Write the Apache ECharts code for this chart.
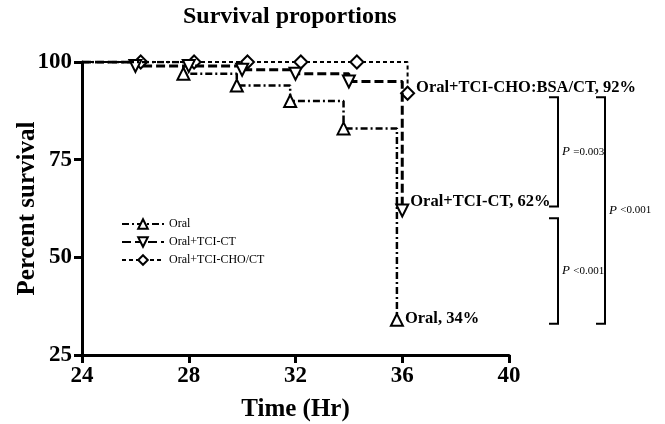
<!DOCTYPE html>
<html>
<head>
<meta charset="utf-8">
<script src="https://cdn.jsdelivr.net/npm/echarts@6/dist/echarts.min.js"></script>
<style>
  html, body { margin: 0; padding: 0; background: #fff; }
  #chart { width: 665px; height: 424px; }
</style>
</head>
<body>
<div id="chart"></div>
<script>
// survival data: [time (hr), percent]
const oralData = [[24, 100], [27.8, 97], [29.8, 94], [31.8, 90], [33.8, 83], [35.8, 34]];
const tciCtData = [[24, 100], [26, 99], [28, 99], [30, 98], [32, 97], [34, 95], [36, 62]];
const tciChoData = [[24, 100], [26.2, 100], [28.2, 100], [30.2, 100], [32.2, 100], [34.3, 100], [36.2, 92]];

const seriesNames = ["Oral", "Oral+TCI-CT", "Oral+TCI-CHO/CT"];
const endLabels = ["Oral, 34%", "Oral+TCI-CT, 62%", "Oral+TCI-CHO:BSA/CT, 92%"];

const xTicks = [24, 28, 32, 36, 40];
const yTicks = [25, 50, 75, 100];

// brackets: [from %, to %, label]
const brackets = [
  { top: 91, bottom: 63, text: "=0.003", col: 0 },
  { top: 60, bottom: 33, text: "<0.001", col: 0 },
  { top: 91, bottom: 33, text: "<0.001", col: 1 },
];

const serif = "Liberation Serif";
const chart = echarts.init(document.getElementById("chart"));

const toData = (arr, label, lift) =>
  arr.map((p, i) => {
    const item = { value: p };
    if (i === 0) item.symbol = "none";
    if (i === arr.length - 1) {
      item.label = {
        show: true,
        position: "right",
        distance: 1,
        offset: [0, -lift],
        formatter: label,
        fontFamily: serif,
        fontWeight: "bold",
        fontSize: 16.5,
        color: "#000",
      };
    }
    return item;
  });

const mkSeries = (name, data, label, lift, symbol, rotate, dash, width, z) => ({
  name: name,
  type: "line",
  step: "end",
  data: toData(data, label, lift),
  symbol: symbol,
  symbolSize: symbol === "diamond" ? 13 : 12,
  symbolRotate: rotate,
  showSymbol: true,
  z: z,
  lineStyle: { color: "#000", width: width, type: dash },
  itemStyle: { color: "#fff", borderColor: "#000", borderWidth: 2 },
  emphasis: { disabled: true },
  animation: false,
});

const option = {
  animation: false,
  title: {
    text: "Survival proportions",
    left: 178,
    top: 0,
    textStyle: { fontFamily: serif, fontWeight: "bold", fontSize: 24, color: "#000" },
  },
  legend: {
    orient: "vertical",
    left: 116,
    top: 213,
    itemWidth: 42,
    itemHeight: 12,
    itemGap: 6,
    data: seriesNames,
    textStyle: { fontFamily: serif, fontSize: 12, color: "#000" },
  },
  grid: { left: 82, right: 156, top: 62, bottom: 69, containLabel: false, outerBoundsMode: "none" },
  xAxis: {
    type: "value",
    min: 24,
    max: 40,
    interval: 4,
    name: "Time (Hr)",
    nameLocation: "middle",
    nameGap: 42,
    nameTextStyle: { fontFamily: serif, fontWeight: "bold", fontSize: 25, color: "#000" },
    axisLine: { show: true, lineStyle: { color: "#000", width: 3 } },
    axisTick: { show: true, length: 8, lineStyle: { color: "#000", width: 3 } },
    axisLabel: {
      fontFamily: serif, fontWeight: "bold", fontSize: 23, color: "#000", margin: 10,
      formatter: (v) => (xTicks.includes(v) ? String(v) : ""),
    },
    splitLine: { show: false },
  },
  yAxis: {
    type: "value",
    min: 25,
    max: 100,
    interval: 25,
    name: "Percent survival",
    nameLocation: "middle",
    nameGap: 42,
    nameMoveOverlap: false,
    nameRotate: 90,
    nameTextStyle: { fontFamily: serif, fontWeight: "bold", fontSize: 25, color: "#000" },
    axisLine: { show: true, lineStyle: { color: "#000", width: 3 } },
    axisTick: { show: true, length: 8, lineStyle: { color: "#000", width: 3 } },
    axisLabel: {
      fontFamily: serif, fontWeight: "bold", fontSize: 23, color: "#000", margin: 10,
      formatter: (v) => (yTicks.includes(v) ? String(v) : ""),
    },
    splitLine: { show: false },
  },
  series: [
    mkSeries(seriesNames[0], oralData, endLabels[0], 1, "triangle", 0, [7, 3, 2, 3], 2.5, 3),
    mkSeries(seriesNames[1], tciCtData, endLabels[1], 9, "triangle", 180, [9, 4], 3, 2),
    mkSeries(seriesNames[2], tciChoData, endLabels[2], 6, "diamond", 0, [4, 3], 2, 1),
  ],
};

chart.setOption(option);

// significance brackets placed from the y scale
const colX = [558, 605];
const graphics = [];
brackets.forEach((b) => {
  const y1 = chart.convertToPixel({ yAxisIndex: 0 }, b.top);
  const y2 = chart.convertToPixel({ yAxisIndex: 0 }, b.bottom);
  const x = colX[b.col];
  graphics.push({
    type: "polyline",
    shape: { points: [[x - 9, y1], [x, y1], [x, y2], [x - 9, y2]] },
    style: { stroke: "#000", lineWidth: 2, fill: null },
  });
  graphics.push({
    type: "text",
    x: x + 4,
    y: (y1 + y2) / 2,
    style: {
      rich: {
        p: { fontFamily: serif, fontStyle: "italic", fontSize: 13, fill: "#000" },
        v: { fontFamily: serif, fontSize: 11, fill: "#000" },
      },
      text: "{p|P }{v|" + b.text + "}",
      verticalAlign: "middle",
    },
  });
});
chart.setOption({ graphic: graphics });
</script>
</body>
</html>
